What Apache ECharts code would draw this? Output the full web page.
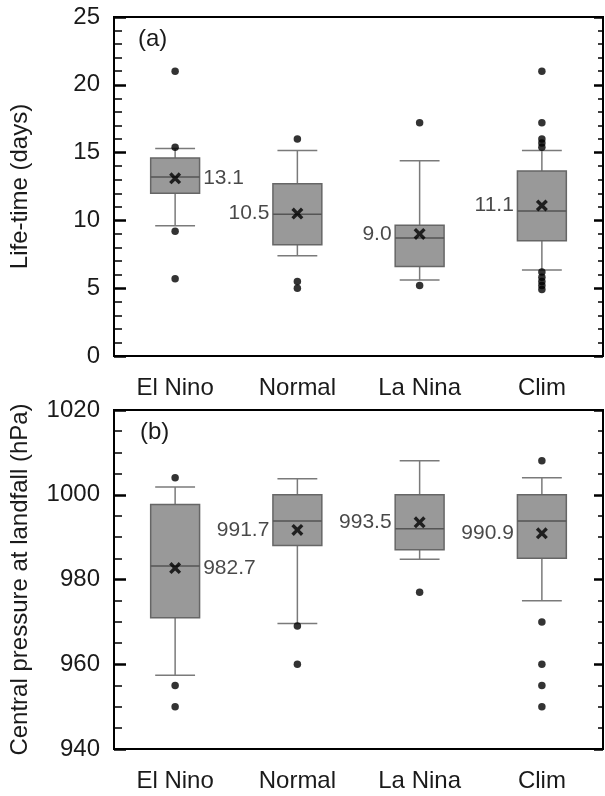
<!DOCTYPE html>
<html>
<head>
<meta charset="utf-8">
<script src="https://cdn.jsdelivr.net/npm/echarts@6/dist/echarts.min.js"></script>
<style>html,body{margin:0;padding:0;background:#fff}#c{width:605px;height:796px}</style>
</head>
<body>
<div id="c"></div>
<script>
// ---------- data ----------
const categories = ['El Nino', 'Normal', 'La Nina', 'Clim'];

// panel (a): life-time (days) -> [lower whisker, Q1, median, Q3, upper whisker]
const lifeBox = [
  [9.6, 12.0, 13.2, 14.6, 15.3],
  [7.4, 8.2, 10.45, 12.7, 15.15],
  [5.6, 6.6, 8.7, 9.65, 14.4],
  [6.35, 8.5, 10.7, 13.65, 15.15]
];
const lifeMean = [13.1, 10.5, 9.0, 11.1];
const lifeOutliers = [
  [0, 21.0], [0, 15.4], [0, 9.2], [0, 5.7],
  [1, 16.0], [1, 5.5], [1, 5.0],
  [2, 17.2], [2, 5.2],
  [3, 21.0], [3, 17.2], [3, 16.0], [3, 15.7], [3, 15.4],
  [3, 6.2], [3, 5.8], [3, 5.5], [3, 5.2], [3, 4.9]
];
const lifeTicks = { min: 0, max: 25, interval: 5 };

// panel (b): central pressure at landfall (hPa)
const presBox = [
  [957.4, 971.0, 983.2, 997.7, 1001.8],
  [969.6, 988.0, 993.8, 1000.0, 1003.8],
  [984.8, 987.0, 992.0, 1000.0, 1008.0],
  [975.0, 985.0, 993.8, 1000.0, 1004.0]
];
const presMean = [982.7, 991.7, 993.5, 990.9];
const presOutliers = [
  [0, 1004], [0, 955], [0, 950],
  [1, 969], [1, 960],
  [2, 977],
  [3, 1008], [3, 970], [3, 960], [3, 955], [3, 950]
];
const presTicks = { min: 940, max: 1020, interval: 20 };

// ---------- styling ----------
const FONT = "'Liberation Sans', Arial, sans-serif";
const labelSide = ['right', 'left', 'left', 'left'];
const crossPath = 'path://M2,0 L5,3 L8,0 L10,2 L7,5 L10,8 L8,10 L5,7 L2,10 L0,8 L3,5 L0,2 Z';

const chart = echarts.init(document.getElementById('c'), null, { renderer: 'canvas' });

function boxRender(params, api) {
  const cat = api.value(0);
  const lo = api.coord([cat, api.value(1)]);
  const q1 = api.coord([cat, api.value(2)]);
  const md = api.coord([cat, api.value(3)]);
  const q3 = api.coord([cat, api.value(4)]);
  const hi = api.coord([cat, api.value(5)]);
  const band = api.size([1, 0])[0];
  const hb = band * 0.2;
  const hc = band * 0.163;
  const x = lo[0];
  const wStyle = { stroke: '#7a7a7a', lineWidth: 1.5 };
  return {
    type: 'group',
    children: [
      { type: 'line', shape: { x1: x, y1: lo[1], x2: x, y2: q1[1] }, style: wStyle },
      { type: 'line', shape: { x1: x, y1: q3[1], x2: x, y2: hi[1] }, style: wStyle },
      { type: 'line', shape: { x1: x - hc, y1: lo[1], x2: x + hc, y2: lo[1] }, style: wStyle },
      { type: 'line', shape: { x1: x - hc, y1: hi[1], x2: x + hc, y2: hi[1] }, style: wStyle },
      { type: 'rect', shape: { x: x - hb, y: q3[1], width: 2 * hb, height: q1[1] - q3[1] },
        style: { fill: '#999999', stroke: '#666666', lineWidth: 1.5 } },
      { type: 'line', shape: { x1: x - hb, y1: md[1], x2: x + hb, y2: md[1] },
        style: { stroke: '#555555', lineWidth: 1.5 } }
    ]
  };
}

function xAxisCfg(gridIndex) {
  return {
    type: 'category', gridIndex, data: categories, boundaryGap: true,
    axisLine: { lineStyle: { color: '#000', width: 2 } },
    axisTick: { alignWithLabel: true, inside: false, length: 9, lineStyle: { color: '#000', width: 2 } },
    axisLabel: { margin: 20, fontSize: 24, color: '#1a1a1a', fontFamily: FONT },
    splitLine: { show: false }
  };
}
function yAxisCfg(gridIndex, t, name, side) {
  const left = side === 'left';
  return {
    type: 'value', gridIndex, position: side, min: t.min, max: t.max, interval: t.interval,
    name: left ? name : '', nameLocation: 'middle', nameGap: 82,
    nameTextStyle: { fontSize: 24, color: '#1a1a1a', fontFamily: FONT },
    axisLine: { show: true, lineStyle: { color: '#000', width: 2 } },
    axisTick: { show: true, inside: true, length: left ? 12 : 9, lineStyle: { color: '#000', width: 2.5 } },
    minorTick: { show: true, splitNumber: t === lifeTicks ? 5 : 4, length: left ? 8 : 5, lineStyle: { color: '#000', width: 1.5 } },
    axisLabel: { show: left, margin: 14, fontSize: 24, color: '#1a1a1a', fontFamily: FONT, formatter: v => String(v) },
    splitLine: { show: false }, minorSplitLine: { show: false }
  };
}

function panelSeries(xi, yi, box, mean, outl) {
  return [
    {
      type: 'custom', xAxisIndex: xi, yAxisIndex: yi, renderItem: boxRender,
      data: box.map((b, i) => [i].concat(b)), z: 2, silent: true
    },
    {
      type: 'scatter', xAxisIndex: xi, yAxisIndex: yi, symbol: 'circle', symbolSize: 7.5,
      itemStyle: { color: '#000' }, data: outl, z: 3, silent: true
    },
    {
      type: 'scatter', xAxisIndex: xi, yAxisIndex: yi, symbol: crossPath, symbolSize: 12,
      itemStyle: { color: '#000' }, z: 4, silent: true,
      data: mean.map((m, i) => ({ value: [i, m], label: { position: labelSide[i] } })),
      label: {
        show: true, distance: 22, fontSize: 21, color: '#1a1a1a', fontFamily: FONT,
        formatter: p => p.value[1].toFixed(1)
      }
    }
  ];
}

chart.setOption({
  animation: false,
  backgroundColor: '#fff',
  grid: [
    { left: 113, top: 17, width: 490, height: 339, show: true, borderColor: '#000', borderWidth: 2, backgroundColor: 'transparent' },
    { left: 113, top: 410, width: 490, height: 339, show: true, borderColor: '#000', borderWidth: 2, backgroundColor: 'transparent' }
  ],
  xAxis: [xAxisCfg(0), xAxisCfg(1)],
  yAxis: [
    yAxisCfg(0, lifeTicks, 'Life-time (days)', 'left'),
    yAxisCfg(0, lifeTicks, '', 'right'),
    yAxisCfg(1, presTicks, 'Central pressure at landfall (hPa)', 'left'),
    yAxisCfg(1, presTicks, '', 'right')
  ],
  graphic: [
    { type: 'text', left: 138, top: 27, style: { text: '(a)', fontSize: 24, fill: '#1a1a1a', fontFamily: FONT } },
    { type: 'text', left: 140, top: 420, style: { text: '(b)', fontSize: 24, fill: '#1a1a1a', fontFamily: FONT } }
  ],
  series: [].concat(
    panelSeries(0, 0, lifeBox, lifeMean, lifeOutliers),
    panelSeries(1, 2, presBox, presMean, presOutliers)
  )
});
</script>
</body>
</html>
